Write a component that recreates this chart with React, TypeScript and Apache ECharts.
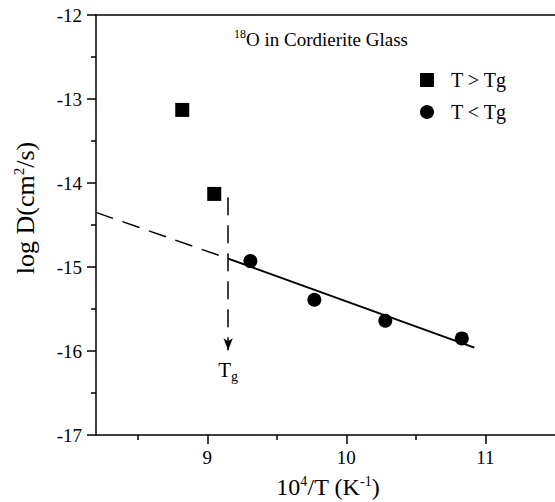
import React, { useEffect, useRef } from 'react';
import * as echarts from 'echarts';

// ---- data ----
const xMajorTicks = [9, 10, 11];
const xMinorTicks = [8.5, 9.5, 10.5];
const aboveTgX = [8.82, 9.05];
const aboveTgY = [-13.13, -14.13];
const belowTgX = [9.31, 9.77, 10.28, 10.83];
const belowTgY = [-14.93, -15.39, -15.64, -15.85];
const fitX = [9.15, 10.92];
const fitY = [-14.9, -15.96];
const extrapX = [8.2, 9.15];
const extrapY = [-14.35, -14.9];
const tgX = 9.15;
const tgArrowY = [-14.17, -15.99];
const seriesNames = ['T > Tg', 'T < Tg'];

const FONT = '"Liberation Serif", "DejaVu Serif", serif';

const zip = (xs: number[], ys: number[]) => xs.map((x, i) => [x, ys[i]]);

export default function App() {
  const ref = useRef<HTMLDivElement>(null);
  useEffect(() => {
    if (!ref.current) return;
    const chart = echarts.init(ref.current, undefined, { renderer: 'svg' });
    const axisLineStyle = { color: '#000', width: 1.5 };
    const option: any = {
      animation: false,
      backgroundColor: '#fff',
      grid: { left: 96, right: -3, top: 15, bottom: 67 },
      legend: {
        orient: 'vertical',
        left: 420,
        top: 70,
        padding: 0,
        itemWidth: 14,
        itemHeight: 14,
        itemGap: 12,
        data: [
          { name: seriesNames[0], icon: 'rect' },
          { name: seriesNames[1], icon: 'circle' },
        ],
        itemStyle: { opacity: 1 },
        textStyle: { fontFamily: FONT, fontSize: 20, color: '#000', padding: [0, 0, 0, 12] },
      },
      xAxis: [
        {
          type: 'value', min: 8.2, max: 11.5, position: 'bottom',
          axisLine: { show: true, onZero: false, lineStyle: axisLineStyle },
          axisTick: { show: true, customValues: xMajorTicks, length: 9, lineStyle: axisLineStyle },
          axisLabel: { customValues: xMajorTicks, fontFamily: FONT, fontSize: 19, color: '#000', margin: 13 },
          splitLine: { show: false },
        },
        {
          type: 'value', min: 8.2, max: 11.5, position: 'bottom',
          axisLine: { show: false, onZero: false },
          axisTick: { show: true, customValues: xMinorTicks, length: 5, lineStyle: axisLineStyle },
          axisLabel: { show: false },
          splitLine: { show: false },
        },
        {
          type: 'value', min: 8.2, max: 11.5, position: 'top',
          axisLine: { show: true, onZero: false, lineStyle: axisLineStyle },
          axisTick: { show: false },
          axisLabel: { show: false },
          splitLine: { show: false },
        },
      ],
      yAxis: {
        type: 'value', min: -17, max: -12, interval: 1,
        axisLine: { show: true, onZero: false, lineStyle: axisLineStyle },
        axisTick: { show: true, length: 9, lineStyle: axisLineStyle },
        minorTick: { show: true, splitNumber: 2, length: 5, lineStyle: axisLineStyle },
        axisLabel: { fontFamily: FONT, fontSize: 19, color: '#000', margin: 14 },
        splitLine: { show: false },
        minorSplitLine: { show: false },
      },
      graphic: [
        {
          type: 'text', x: 234, y: 39,
          style: {
            text: '{s|18}{b|O in Cordierite Glass}',
            textVerticalAlign: 'middle',
            rich: {
              s: { fontFamily: FONT, fontSize: 12, verticalAlign: 'top', lineHeight: 22, fill: '#000' },
              b: { fontFamily: FONT, fontSize: 19, lineHeight: 22, fill: '#000' },
            },
          },
        },
        {
          type: 'text', x: 328, y: 487,
          style: {
            text: '{b|10}{s|4}{b|/T (K}{s|-1}{b|)}',
            textAlign: 'center',
            textVerticalAlign: 'middle',
            rich: {
              s: { fontFamily: FONT, fontSize: 14, verticalAlign: 'top', lineHeight: 15, fill: '#000' },
              b: { fontFamily: FONT, fontSize: 24, lineHeight: 25, fill: '#000' },
            },
          },
        },
        {
          type: 'text', x: 25, y: 208, rotation: Math.PI / 2,
          style: {
            text: '{b|log D(cm}{s|2}{b|/s)}',
            textAlign: 'center',
            textVerticalAlign: 'middle',
            rich: {
              s: { fontFamily: FONT, fontSize: 15, verticalAlign: 'top', lineHeight: 16, fill: '#000' },
              b: { fontFamily: FONT, fontSize: 26, lineHeight: 28, fill: '#000' },
            },
          },
        },
      ],
      series: [
        {
          name: seriesNames[0], type: 'scatter', symbol: 'rect', symbolSize: 14,
          itemStyle: { color: '#000', opacity: 1 }, data: zip(aboveTgX, aboveTgY), z: 5,
        },
        {
          name: seriesNames[1], type: 'scatter', symbol: 'circle', symbolSize: 14,
          itemStyle: { color: '#000', opacity: 1 }, data: zip(belowTgX, belowTgY), z: 5,
        },
        {
          name: 'fit', type: 'line', symbol: 'none', silent: true,
          lineStyle: { color: '#000', width: 2 }, data: zip(fitX, fitY),
          markLine: {
            silent: true,
            symbol: ['none', 'arrow'],
            symbolSize: [7, 12],
            lineStyle: { color: '#000', width: 1.5, type: [18, 10] },
            label: {
              show: true, position: 'end', distance: 7,
              formatter: '{t|T}{g|g}',
              rich: {
                t: { fontFamily: FONT, fontSize: 21, lineHeight: 26, color: '#000' },
                g: { fontFamily: FONT, fontSize: 14, lineHeight: 13, verticalAlign: 'bottom', color: '#000' },
              },
            },
            data: [[{ coord: [tgX, tgArrowY[0]] }, { coord: [tgX, tgArrowY[1]] }]],
          },
        },
        {
          name: 'extrapolation', type: 'line', symbol: 'none', silent: true,
          lineStyle: { color: '#000', width: 1.5, type: [18, 10] }, data: zip(extrapX, extrapY),
        },
      ],
    };
    chart.setOption(option);
    return () => chart.dispose();
  }, []);
  return (
    <div
      ref={ref}
      style={{ position: 'absolute', left: 0, top: 0, width: 555, height: 502, background: '#fff' }}
    />
  );
}
